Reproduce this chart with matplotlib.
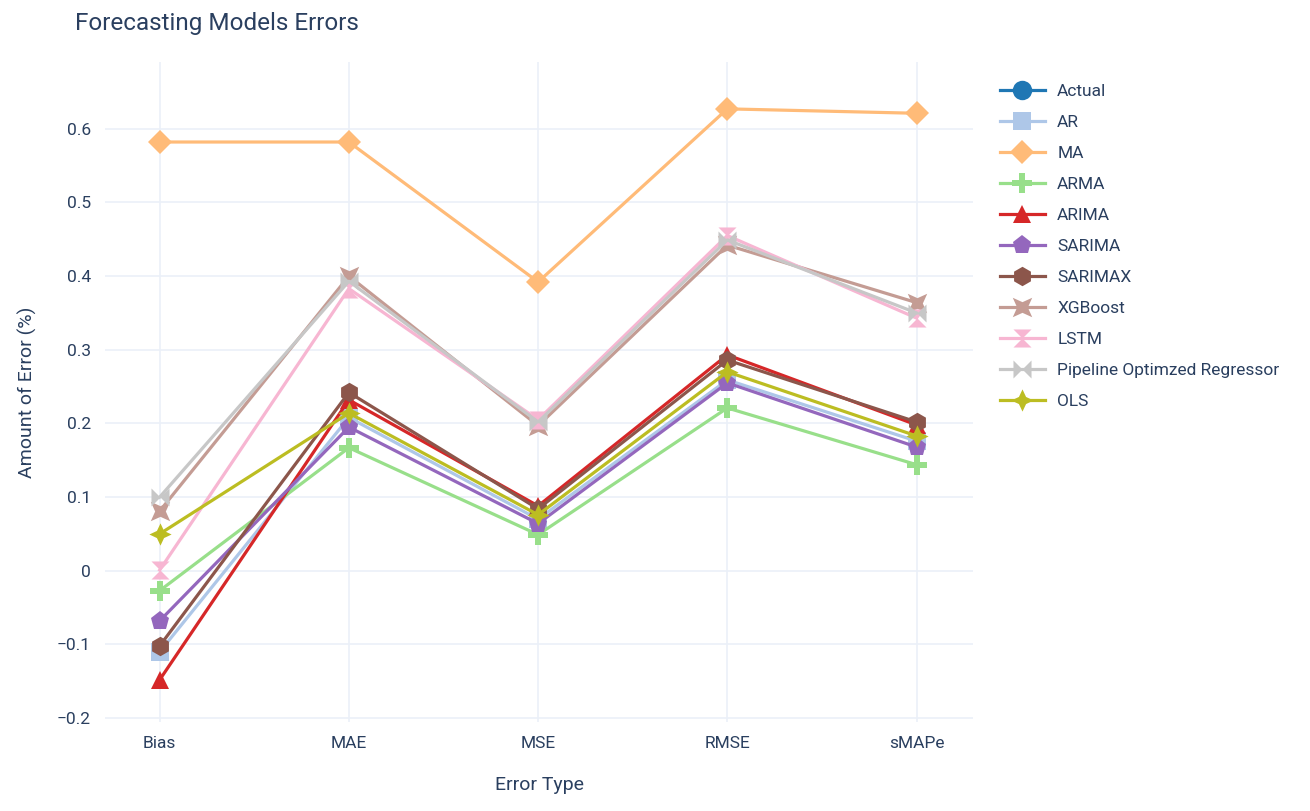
import numpy as np
import matplotlib
matplotlib.use("Agg")
import matplotlib.pyplot as plt
from matplotlib.path import Path

plt.rcParams['font.family'] = ['Roboto', 'DejaVu Sans']

error_types = ["Bias", "MAE", "MSE", "RMSE", "sMAPe"]

# one list per model
actual = [np.nan, np.nan, np.nan, np.nan, np.nan]
ar = [-0.110, 0.208, 0.070, 0.259, 0.176]
ma = [0.582, 0.582, 0.392, 0.627, 0.621]
arma = [-0.027, 0.167, 0.049, 0.221, 0.144]
arima = [-0.148, 0.232, 0.088, 0.293, 0.198]
sarima = [-0.068, 0.195, 0.064, 0.255, 0.168]
sarimax = [-0.102, 0.242, 0.084, 0.286, 0.202]
xgboost = [0.081, 0.400, 0.197, 0.442, 0.364]
lstm = [0.001, 0.383, 0.205, 0.455, 0.343]
pipeline = [0.100, 0.393, 0.202, 0.449, 0.350]
ols = [0.050, 0.214, 0.076, 0.270, 0.183]

model_names = ["Actual", "AR", "MA", "ARMA", "ARIMA", "SARIMA", "SARIMAX",
               "XGBoost", "LSTM", "Pipeline Optimzed Regressor", "OLS"]
model_values = [actual, ar, ma, arma, arima, sarima, sarimax,
                xgboost, lstm, pipeline, ols]
colors = ["#1f77b4", "#aec7e8", "#ffbb78", "#98df8a", "#d62728", "#9467bd",
          "#8c564b", "#c49c94", "#f7b6d2", "#c7c7c7", "#bcbd22"]

# plotly-like marker shapes
star_square = Path([(-1, -1), (0, -0.55), (1, -1), (0.55, 0), (1, 1),
                    (0, 0.55), (-1, 1), (-0.55, 0), (-1, -1)])
hourglass = Path([(-1, 1), (1, 1), (-1, -1), (1, -1), (-1, 1)])
bowtie = Path([(-1, 1), (1, -1), (1, 1), (-1, -1), (-1, 1)])
star_diamond = Path([(0, 1), (0.32, 0.32), (1, 0), (0.32, -0.32), (0, -1),
                     (-0.32, -0.32), (-1, 0), (-0.32, 0.32), (0, 1)])
markers = ["o", "s", "D", "P", "^", "p", "h", star_square, hourglass, bowtie, star_diamond]
sizes = [14, 13, 12, 14, 13, 14, 14, 14, 13, 13, 16]

text_color = "#2a3f5f"

fig = plt.figure(figsize=(13.1, 8.11), dpi=100)
ax = fig.add_axes([0.080, 0.110, 0.663, 0.813])

x = np.arange(len(error_types))
for name, vals, c, m, s in zip(model_names, model_values, colors, markers, sizes):
    ax.plot(x, vals, color=c, marker=m, markersize=s, linewidth=2.3,
            markeredgewidth=0, label=name)

ax.set_xlim(-0.29, 4.30)
ax.set_ylim(-0.205, 0.69)
ax.set_xticks(x)
ax.set_xticklabels(error_types)
ax.set_yticks([-0.2, -0.1, 0, 0.1, 0.2, 0.3, 0.4, 0.5, 0.6])
ax.set_yticklabels(["\u22120.2", "\u22120.1", "0", "0.1", "0.2", "0.3", "0.4", "0.5", "0.6"])
ax.grid(True, color="#ebf0f8", linewidth=1.2)
ax.set_axisbelow(True)
for sp in ax.spines.values():
    sp.set_visible(False)
ax.tick_params(length=0, labelsize=12.5, colors=text_color, pad=10)
for lbl in ax.get_xticklabels() + ax.get_yticklabels():
    lbl.set_color(text_color)

ax.set_xlabel("Error Type", fontsize=14, color=text_color, labelpad=18)
ax.set_ylabel("Amount of Error (%)", fontsize=14, color=text_color, labelpad=14)
fig.text(0.057, 0.971, "Forecasting Models Errors", fontsize=17.5,
         color=text_color, va="center", ha="left")

leg = fig.legend(loc="upper left", bbox_to_anchor=(0.758, 0.905), frameon=False,
                 fontsize=12.5, handlelength=2.6, labelspacing=0.91,
                 handletextpad=0.7, borderaxespad=0)
for t in leg.get_texts():
    t.set_color(text_color)

fig.savefig("out.png", dpi=100, facecolor="white")
